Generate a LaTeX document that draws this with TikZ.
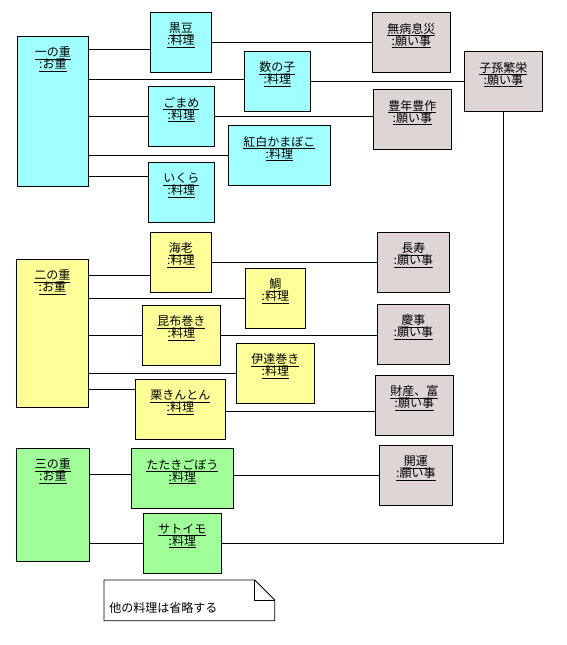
\documentclass[tikz,border=0pt]{standalone}
\usepackage{fontspec}
\setmainfont{Noto Sans CJK JP}

\definecolor{juucyan}{RGB}{160,255,255}
\definecolor{juuyellow}{RGB}{255,255,153}
\definecolor{juugreen}{RGB}{160,255,153}
\definecolor{negaigray}{RGB}{221,214,212}

\newcommand{\objfont}{\fontsize{12}{12}\selectfont\lineskiplimit=-100pt\relax}

\tikzset{
  obj/.style={draw, anchor=north west, inner sep=0pt},
  ichibox/.style={obj, fill=juucyan},
  nibox/.style={obj, fill=juuyellow},
  sanbox/.style={obj, fill=juugreen},
  negaibox/.style={obj, fill=negaigray},
  objtext/.style={anchor=north, align=center, inner sep=0pt, font=\objfont},
  link/.style={draw, line width=0.8pt}
}

\newcommand{\kobj}[7]{%
  \node[#2, minimum width=#4pt, minimum height=#5pt] (#1) at (#3) {};
  \node[objtext] (#1-t) at ([yshift=-10.5pt]#1.north) {\underline{#6}\\\underline{#7}};
}

\begin{document}
\begin{tikzpicture}[x=1pt, y=-1pt, line width=0.8pt]
            \useasboundingbox (0,0) rectangle (567,645);

            \kobj{ichi}{ichibox}{17,36}{71}{150}{一の重}{:お重}
            \kobj{kuromame}{ichibox}{150,12}{61}{60}{黒豆}{:料理}
            \kobj{kazunoko}{ichibox}{244,51}{66}{60}{数の子}{:料理}
            \kobj{gomame}{ichibox}{148,86}{66}{60}{ごまめ}{:料理}
            \kobj{kamaboko}{ichibox}{228,125}{102}{60}{紅白かまぼこ}{:料理}
            \kobj{ikura}{ichibox}{148,162}{66}{60}{いくら}{:料理}

            \kobj{ni}{nibox}{16,259}{72}{148}{二の重}{:お重}
            \kobj{ebi}{nibox}{150,232}{61}{60}{海老}{:料理}
            \kobj{tai}{nibox}{245,268}{60}{60}{鯛}{:料理}
            \kobj{konbu}{nibox}{142,305}{78}{60}{昆布巻き}{:料理}
            \kobj{date}{nibox}{236,343}{78}{60}{伊達巻き}{:料理}
            \kobj{kuri}{nibox}{135,379}{90}{60}{栗きんとん}{:料理}

            \kobj{san}{sanbox}{16,448}{73}{113}{三の重}{:お重}
            \kobj{tataki}{sanbox}{131,448}{102}{60}{たたきごぼう}{:料理}
            \kobj{satoimo}{sanbox}{143,513}{78}{60}{サトイモ}{:料理}

            \kobj{mubyou}{negaibox}{372,12}{78}{60}{無病息災}{:願い事}
            \kobj{shison}{negaibox}{464,51}{78}{60}{子孫繁栄}{:願い事}
            \kobj{hounen}{negaibox}{373,89}{78}{60}{豊年豊作}{:願い事}
            \kobj{choju}{negaibox}{377,232}{72}{60}{長寿}{:願い事}
            \kobj{keiji}{negaibox}{377,304}{72}{60}{慶事}{:願い事}
            \kobj{zaisan}{negaibox}{375,375}{78}{60}{財産、富}{:願い事}
            \kobj{kaiun}{negaibox}{379,445}{73}{60}{開運}{:願い事}

            \draw ([yshift=-7pt]kuromame.west -| ichi.east) -- ([yshift=-7pt]kuromame.west);
            \draw ([yshift=2pt]kazunoko.west -| ichi.east) -- ([yshift=2pt]kazunoko.west);
            \draw (gomame.west -| ichi.east) -- (gomame.west);
            \draw (kamaboko.west -| ichi.east) -- (kamaboko.west);
            \draw ([yshift=16pt]ikura.west -| ichi.east) -- ([yshift=16pt]ikura.west);
            \draw (kuromame.east) -- (mubyou.west);
            \draw (kazunoko.east) -- (shison.west);
            \draw (gomame.east) -- (gomame.east -| hounen.west);
            \draw (shison.south) |- (satoimo.east);

            \draw ([yshift=-13pt]ebi.west -| ni.east) -- ([yshift=-13pt]ebi.west);
            \draw (tai.west -| ni.east) -- (tai.west);
            \draw (konbu.west -| ni.east) -- (konbu.west);
            \draw (date.west -| ni.east) -- (date.west);
            \draw ([yshift=20pt]kuri.west -| ni.east) -- ([yshift=20pt]kuri.west);
            \draw (ebi.east) -- (choju.west);
            \draw (konbu.east) -- (konbu.east -| keiji.west);
            \draw ([yshift=-2pt]kuri.east) -- ([yshift=-2pt]kuri.east -| zaisan.west);

            \draw ([yshift=4pt]tataki.west -| san.east) -- ([yshift=4pt]tataki.west);
            \draw (satoimo.west -| san.east) -- (satoimo.west);
            \draw (kaiun.west -| tataki.east) -- (kaiun.west);

            \node[anchor=north west, minimum width=170pt, minimum height=40pt, inner sep=0pt] (memo) at (104,580) {};
            \draw[fill=white] (memo.north west) -- ([xshift=-20pt]memo.north east) -- ([yshift=-20pt]memo.north east)
                -- (memo.south east) -- (memo.south west) -- cycle;
            \draw ([xshift=-20pt]memo.north east) |- ([yshift=-20pt]memo.north east);
            \node[anchor=west, inner sep=0pt, font=\objfont] (memo-t) at ([xshift=5pt,yshift=-8pt]memo.west) {他の料理は省略する};
        \end{tikzpicture}
\end{document}
